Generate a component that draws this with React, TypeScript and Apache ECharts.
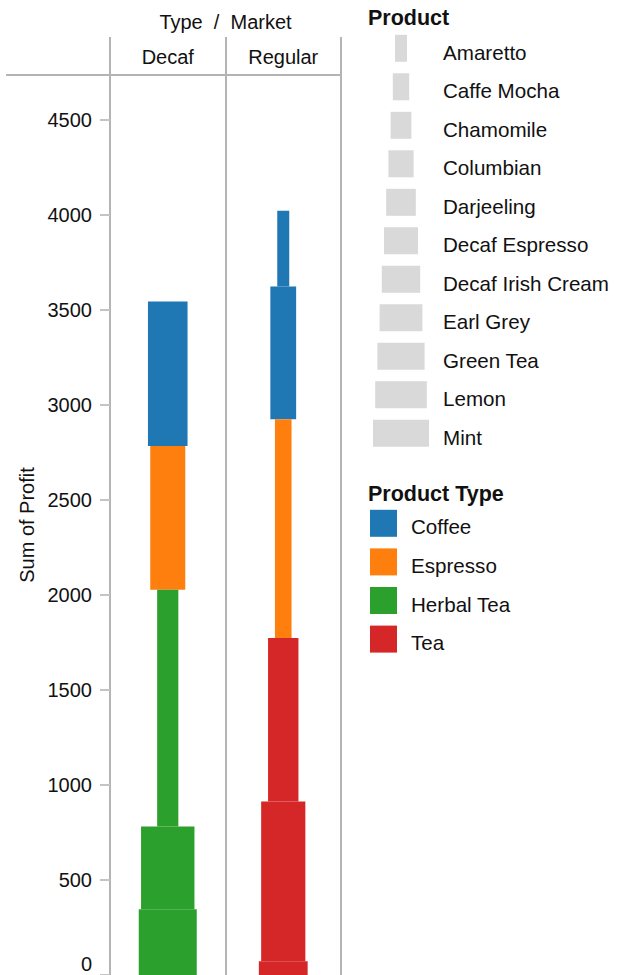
import React, { useEffect, useRef } from 'react';
import * as echarts from 'echarts';

const markets = ['Decaf', 'Regular'];
const productTypes = ['Coffee', 'Espresso', 'Herbal Tea', 'Tea'];
const typeColors = ['#1f77b4', '#ff7f0e', '#2ca02c', '#d62728'];
const products = [
  'Amaretto', 'Caffe Mocha', 'Chamomile', 'Columbian', 'Darjeeling', 'Decaf Espresso',
  'Decaf Irish Cream', 'Earl Grey', 'Green Tea', 'Lemon', 'Mint',
];

// stacking order, bottom to top
const decafProducts = ['Mint', 'Lemon', 'Chamomile', 'Decaf Espresso', 'Decaf Irish Cream'];
const decafTypes = ['Herbal Tea', 'Herbal Tea', 'Herbal Tea', 'Espresso', 'Coffee'];
const decafProfit = [346, 436, 1245, 757, 760];

const regularProducts = ['Green Tea', 'Earl Grey', 'Darjeeling', 'Caffe Mocha', 'Columbian', 'Amaretto'];
const regularTypes = ['Tea', 'Tea', 'Tea', 'Espresso', 'Coffee', 'Coffee'];
const regularProfit = [73, 840, 861, 1151, 698, 399];

const FONT = '"Liberation Sans", Arial, Helvetica, sans-serif';
const LINE = '#b4b4b4';
const TEXT = '#111';

const barWidth = (i: number) => 12 + ((58 - 12) * i) / (products.length - 1);
const legendWidth = (i: number) => 12 + ((56 - 12) * i) / (products.length - 1);

function buildRows() {
  const rows: { m: number; b: number; t: number; p: number; type: number }[] = [];
  const groups = [
    [decafProducts, decafTypes, decafProfit],
    [regularProducts, regularTypes, regularProfit],
  ] as [string[], string[], number[]][];
  groups.forEach(([ps, ts, vs], m) => {
    let acc = 0;
    ps.forEach((p, k) => {
      rows.push({ m, b: acc, t: acc + vs[k], p: products.indexOf(p), type: productTypes.indexOf(ts[k]) });
      acc += vs[k];
    });
  });
  return rows;
}

export default function App() {
  const ref = useRef<HTMLDivElement>(null);
  useEffect(() => {
    if (!ref.current) return;
    const chart = echarts.init(ref.current, undefined, { renderer: 'svg' });
    const rows = buildRows();

    const series = productTypes.map((name, ti) => ({
      type: 'custom',
      name,
      encode: { x: 0, y: [1, 2] },
      data: rows.filter((r) => r.type === ti).map((r) => [r.m, r.b, r.t, r.p]),
      renderItem: (params: any, api: any) => {
        const m = api.value(0);
        const p0 = api.coord([m, api.value(1)]);
        const p1 = api.coord([m, api.value(2)]);
        const w = barWidth(api.value(3));
        return {
          type: 'rect',
          shape: { x: p0[0] - w / 2, y: p1[1], width: w, height: p0[1] - p1[1] },
          style: { fill: typeColors[ti] },
        };
      },
    }));

    const graphic: any[] = [
      { type: 'line', shape: { x1: 6, y1: 75, x2: 110, y2: 75 }, style: { stroke: LINE, lineWidth: 2 } },
      {
        type: 'text', x: 368, y: 18,
        style: { text: 'Product', font: `bold 21.5px ${FONT}`, fill: TEXT, align: 'left', verticalAlign: 'middle' },
      },
      {
        type: 'text', x: 368, y: 494,
        style: { text: 'Product Type', font: `bold 21.5px ${FONT}`, fill: TEXT, align: 'left', verticalAlign: 'middle' },
      },
    ];
    products.forEach((p, i) => {
      const w = legendWidth(i);
      const cy = 48.3 + i * 38.5;
      graphic.push({
        type: 'rect', shape: { x: 401 - w / 2, y: cy - 13.5, width: w, height: 27 },
        style: { fill: '#d9d9d9' },
      });
      graphic.push({
        type: 'text', x: 443, y: cy + 4,
        style: { text: p, font: `20.6px ${FONT}`, fill: TEXT, align: 'left', verticalAlign: 'middle' },
      });
    });
    productTypes.forEach((t, i) => {
      const cy = 523.3 + i * 38.6;
      graphic.push({
        type: 'rect', shape: { x: 370, y: cy - 13.5, width: 27, height: 27 },
        style: { fill: typeColors[i] },
      });
      graphic.push({
        type: 'text', x: 411, y: cy + 3.5,
        style: { text: t, font: `20.6px ${FONT}`, fill: TEXT, align: 'left', verticalAlign: 'middle' },
      });
    });

    chart.setOption({
      animation: false,
      textStyle: { fontFamily: FONT },
      grid: { left: 110, right: 276, top: 75, bottom: -2, containLabel: false },
      xAxis: {
        type: 'category',
        data: markets,
        position: 'top',
        name: 'Type\u00a0\u00a0/\u00a0\u00a0Market',
        nameLocation: 'middle',
        nameGap: 43,
        nameTextStyle: { fontSize: 20, color: TEXT, fontFamily: FONT },
        axisLine: { show: true, onZero: false, lineStyle: { color: LINE, width: 2 } },
        axisTick: { show: true, length: 38, lineStyle: { color: LINE, width: 2 } },
        splitLine: { show: true, lineStyle: { color: LINE, width: 2 } },
        axisLabel: { fontSize: 20, color: TEXT, margin: 8, fontFamily: FONT },
      },
      yAxis: {
        type: 'value',
        min: 0,
        max: 4736,
        interval: 500,
        name: 'Sum of Profit',
        nameLocation: 'middle',
        nameGap: 73,
        nameTextStyle: { fontSize: 20, color: TEXT, fontFamily: FONT },
        axisLine: { show: true, lineStyle: { color: LINE, width: 2 } },
        axisTick: { show: true, length: 10, lineStyle: { color: '#c4c4c4', width: 2 } },
        splitLine: { show: false },
        axisLabel: {
          fontSize: 20,
          color: TEXT,
          margin: 18,
          fontFamily: FONT,
          showMaxLabel: false,
          formatter: (v: number) => (v === 0 ? '{z|0}' : String(v)),
          rich: { z: { fontSize: 20, color: TEXT, fontFamily: FONT, padding: [0, 0, 22, 0] } },
        },
      },
      series,
      graphic,
    });
    return () => chart.dispose();
  }, []);
  return <div ref={ref} style={{ position: 'absolute', left: 0, top: 0, width: 617, height: 975 }} />;
}
